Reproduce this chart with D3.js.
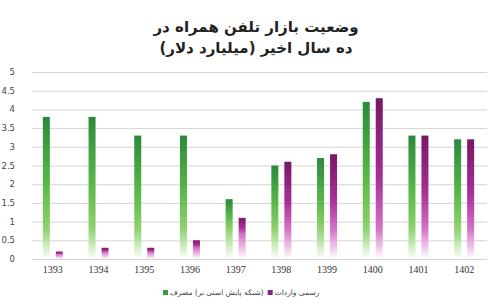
<!DOCTYPE html>
<html>
<head>
<meta charset="utf-8">
<script src="https://cdn.jsdelivr.net/npm/d3@7"></script>
<style>
  body { margin: 0; background: #fff; }
</style>
</head>
<body>
<div id="chart"></div>
<script>
const years = ["1393", "1394", "1395", "1396", "1397", "1398", "1399", "1400", "1401", "1402"];
const consumption = [3.8, 3.8, 3.3, 3.3, 1.6, 2.5, 2.7, 4.2, 3.3, 3.2];
const imports = [0.2, 0.3, 0.3, 0.5, 1.1, 2.6, 2.8, 4.3, 3.3, 3.2];
const yTicks = [0, 0.5, 1, 1.5, 2, 2.5, 3, 3.5, 4, 4.5, 5];
const titleLines = ["وضعیت بازار تلفن همراه در", "ده سال اخیر (میلیارد دلار)"];
const legendLabels = ["(شبکه پایش اسنی بر) مصرف", "رسمی واردات"];

const width = 494, height = 306;
const margin = { top: 72, right: 7, bottom: 47, left: 30 };

const svg = d3.select("#chart")
  .append("svg")
  .attr("width", width)
  .attr("height", height);

const x = d3.scaleBand()
  .domain(years)
  .range([margin.left, width - margin.right]);

const y = d3.scaleLinear()
  .domain([0, 5])
  .range([height - margin.bottom, margin.top]);

// gridlines
svg.append("g")
  .selectAll("line")
  .data(yTicks)
  .enter()
  .append("line")
  .attr("x1", margin.left + 2)
  .attr("x2", width - margin.right)
  .attr("y1", d => y(d) + 0.5)
  .attr("y2", d => y(d) + 0.5)
  .attr("stroke", "#d4d4d4")
  .attr("stroke-width", 1);

// y labels
svg.append("g")
  .selectAll("text")
  .data(yTicks)
  .enter()
  .append("text")
  .attr("x", 15)
  .attr("y", d => y(d) + 3)
  .attr("text-anchor", "end")
  .attr("font-family", "DejaVu Sans")
  .attr("font-size", 8.5)
  .attr("fill", "#444")
  .text(d => d);

// x labels
svg.append("g")
  .selectAll("text")
  .data(years)
  .enter()
  .append("text")
  .attr("x", d => x(d) + x.bandwidth() / 2)
  .attr("y", 273)
  .attr("text-anchor", "middle")
  .attr("font-family", "Liberation Serif")
  .attr("font-size", 10)
  .attr("fill", "#333")
  .text(d => d);

const defs = svg.append("defs");
const barW = 7, offset = 3;

const series = [
  { key: "c", values: consumption, dx: -offset - barW, top: "#2a8a3c", mid: "#5ab848", low: "#8fd26e", sw: "#3a9a3e" },
  { key: "i", values: imports, dx: offset, top: "#761866", mid: "#a82e98", low: "#d472c6", sw: "#8a2080" }
];

series.forEach(s => {
  s.values.forEach((v, i) => {
    const h = y(0) - y(v);
    const fade = Math.min(30, h * 0.6);
    const fStart = (h - fade) / h;
    const g = defs.append("linearGradient")
      .attr("id", `g-${s.key}-${i}`)
      .attr("x1", 0).attr("x2", 0).attr("y1", 0).attr("y2", 1);
    g.append("stop").attr("offset", 0).attr("stop-color", s.top);
    g.append("stop").attr("offset", fStart * 0.6).attr("stop-color", s.mid);
    g.append("stop").attr("offset", fStart).attr("stop-color", s.low);
    g.append("stop").attr("offset", 1).attr("stop-color", "#ffffff");
  });

  svg.append("g")
    .selectAll("rect")
    .data(s.values)
    .enter()
    .append("rect")
    .attr("x", (d, i) => x(years[i]) + x.bandwidth() / 2 + s.dx)
    .attr("y", d => y(d))
    .attr("width", barW)
    .attr("height", d => y(0) - y(d))
    .attr("fill", (d, i) => `url(#g-${s.key}-${i})`);
});

// title
svg.append("g")
  .selectAll("text")
  .data(titleLines)
  .enter()
  .append("text")
  .attr("x", 256)
  .attr("y", (d, i) => 32 + i * 21)
  .attr("text-anchor", "middle")
  .attr("font-family", "DejaVu Sans")
  .attr("font-weight", "bold")
  .attr("font-size", 15)
  .attr("fill", "#222")
  .text(d => d);

// legend
const legend = svg.append("g")
  .attr("font-family", "DejaVu Sans")
  .attr("font-size", 7.5)
  .attr("fill", "#444");
let lx = 163;
legendLabels.forEach((label, i) => {
  legend.append("rect")
    .attr("x", lx).attr("y", 290)
    .attr("width", 5).attr("height", 5)
    .attr("fill", series[i].sw);
  const t = legend.append("text")
    .attr("x", lx + 7)
    .attr("y", 295)
    .text("\u200F" + label + "\u200F");
  lx += 7 + t.node().getComputedTextLength() + 4;
});
</script>
</body>
</html>
